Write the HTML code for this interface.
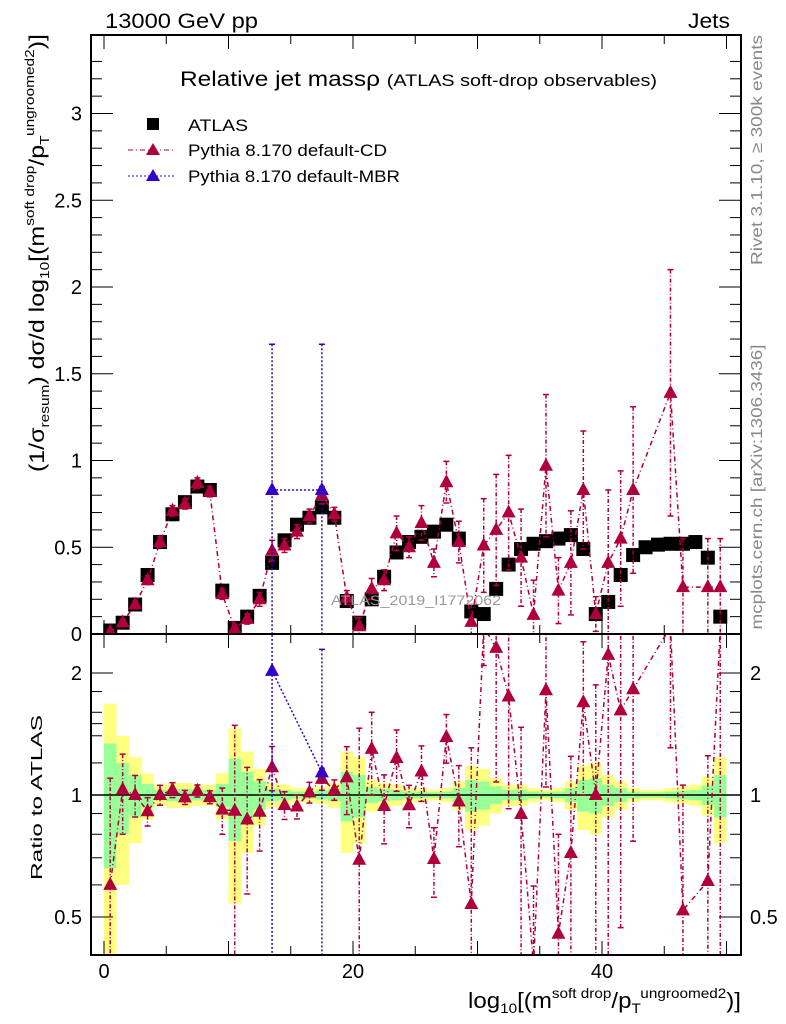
<!DOCTYPE html>
<html><head><meta charset="utf-8"><style>
html,body{margin:0;padding:0;background:#fff;font-family:"Liberation Sans",sans-serif;overflow:hidden;width:786px;height:1024px;}
svg{display:block;}
svg text{font-family:"Liberation Sans",sans-serif;}
</style></head><body>
<svg id="c" width="786" height="1024" xmlns="http://www.w3.org/2000/svg">
<defs>
<clipPath id="cm"><rect x="91" y="35" width="650" height="599"/></clipPath>
<clipPath id="cr"><rect x="91" y="634" width="650" height="321"/></clipPath>
</defs>
<g id="bands" clip-path="url(#cr)"></g>
<g id="grid"></g>
<g id="main" clip-path="url(#cm)"></g>
<g id="ratio" clip-path="url(#cr)"></g>
<rect x="91" y="35" width="650" height="599" fill="none" stroke="#000" stroke-width="2"/>
<rect x="91" y="634" width="650" height="321" fill="none" stroke="#000" stroke-width="2"/>
<text x="105" y="28" font-size="21" textLength="153" lengthAdjust="spacingAndGlyphs">13000 GeV pp</text>
<text x="730" y="28" font-size="21" text-anchor="end" textLength="42" lengthAdjust="spacingAndGlyphs">Jets</text>
<text x="180" y="86" textLength="477" lengthAdjust="spacingAndGlyphs"><tspan font-size="21">Relative jet massρ </tspan><tspan font-size="17">(ATLAS soft-drop observables)</tspan></text>
<g>
<rect x="147" y="118" width="12" height="12" fill="#000"/>
<text x="188" y="131" font-size="17" textLength="60" lengthAdjust="spacingAndGlyphs">ATLAS</text>
<line x1="128" y1="150" x2="176" y2="150" stroke="#b0003c" stroke-dasharray="5,3,1,3"/>
<polygon points="153,143 146,155 160,155" fill="#b0003c"/>
<text x="188" y="156" font-size="17" textLength="199" lengthAdjust="spacingAndGlyphs">Pythia 8.170 default-CD</text>
<line x1="128" y1="176" x2="176" y2="176" stroke="#3300cc" stroke-dasharray="2,2"/>
<polygon points="153,169 146,181 160,181" fill="#3300cc"/>
<text x="188" y="182" font-size="17" textLength="212" lengthAdjust="spacingAndGlyphs">Pythia 8.170 default-MBR</text>
</g>
<text x="416" y="605" font-size="14" fill="#999" text-anchor="middle" textLength="170" lengthAdjust="spacingAndGlyphs">ATLAS_2019_I1772062</text>
<text transform="translate(762,150) rotate(-90)" font-size="16" fill="#888" text-anchor="middle" textLength="230" lengthAdjust="spacingAndGlyphs">Rivet 3.1.10, ≥ 300k events</text>
<text transform="translate(762,487) rotate(-90)" font-size="16" fill="#888" text-anchor="middle" textLength="285" lengthAdjust="spacingAndGlyphs">mcplots.cern.ch [arXiv:1306.3436]</text>
<text transform="translate(44,472) rotate(-90)" font-size="21" textLength="438" lengthAdjust="spacingAndGlyphs">(1/σ<tspan font-size="13" dy="5">resum</tspan><tspan dy="-5">) dσ/d log</tspan><tspan font-size="13" dy="5">10</tspan><tspan dy="-5">[(m</tspan><tspan font-size="13" dy="-10">soft drop</tspan><tspan dy="10">/p</tspan><tspan font-size="13" dy="5">T</tspan><tspan font-size="13" dy="-15">ungroomed</tspan><tspan font-size="13">2</tspan><tspan dy="10">)]</tspan></text>
<text transform="translate(42,880) rotate(-90)" font-size="16" textLength="165" lengthAdjust="spacingAndGlyphs">Ratio to ATLAS</text>
<text x="468" y="1008" font-size="22" textLength="273" lengthAdjust="spacingAndGlyphs">log<tspan font-size="14" dy="5">10</tspan><tspan dy="-5">[(m</tspan><tspan font-size="14" dy="-10">soft drop</tspan><tspan dy="10">/p</tspan><tspan font-size="14" dy="5">T</tspan><tspan font-size="14" dy="-15">ungroomed</tspan><tspan font-size="14">2</tspan><tspan dy="10">)]</tspan></text>
</svg>
<script>
const atlas=[0.02,0.065,0.17,0.34,0.53,0.69,0.76,0.85,0.83,0.25,0.035,0.10,0.22,0.41,0.54,0.63,0.67,0.73,0.67,0.19,0.065,0.20,0.33,0.47,0.53,0.56,0.59,0.63,0.55,0.13,0.115,0.26,0.40,0.49,0.52,0.535,0.55,0.57,0.49,0.115,0.185,0.34,0.455,0.50,0.515,0.52,0.52,0.53,0.44,0.10];
const atlasRelErr=[0.34,0.2,0.12,0.065,0.03,0.035,0.035,0.03,0.03,0.065,0.23,0.14,0.08,0.035,0.03,0.02,0.02,0.025,0.035,0.14,0.12,0.045,0.035,0.03,0.02,0.02,0.015,0.02,0.04,0.09,0.08,0.05,0.03,0.03,0.02,0.015,0.02,0.04,0.09,0.1,0.06,0.04,0.02,0.015,0.015,0.02,0.025,0.03,0.055,0.12];
const cd=[0.012,0.067,0.17,0.31,0.53,0.71,0.75,0.87,0.82,0.23,0.032,0.087,0.20,0.48,0.51,0.59,0.68,0.80,0.69,0.21,0.045,0.26,0.31,0.58,0.50,0.64,0.41,0.875,0.53,0.07,0.51,0.60,0.70,0.44,0.11,0.97,0.25,0.41,0.83,0.115,0.41,0.55,0.83,null,null,1.39,0.27,null,0.27,0.27];
const cdErr=[0.01,0.015,0.02,0.025,0.03,0.03,0.03,0.03,0.03,0.03,0.02,0.03,0.04,0.06,0.04,0.04,0.04,0.05,0.04,0.04,0.05,0.06,0.06,0.1,0.06,0.1,0.08,0.12,0.12,0.1,0.27,0.32,0.33,0.28,0.2,0.41,0.19,0.3,0.34,0.1,0.42,0.39,0.48,0,0,0.71,0.28,0,0.28,0.28];
const mbrBins=[13,17];
const mbr=[0.83,0.83];
const mbrErr=[0.84,0.84];
const yMainTicks=[0,0.5,1,1.5,2,2.5,3];
const xTicks=[0,20,40];
const ratioTicks=[0.5,1,2];

const NS="http://www.w3.org/2000/svg";
const X=v=>104+12.45*v;
const YM=v=>634-173.5*Math.min(v,3.5);
const YR=r=>795-122*Math.log2(Math.min(Math.max(r,0.38),2.6));
function mk(tag,attrs,parent){const e=document.createElementNS(NS,tag);for(const k in attrs)e.setAttribute(k,attrs[k]);document.getElementById(parent).appendChild(e);return e;}
const CDC="#b0003c",MBRC="#3300cc";

atlas.forEach((a,i)=>{const e=atlasRelErr[i];
 let y=mk('rect',{x:X(i),width:12.45,y:YR(1+2*e),height:YR(1-2*e)-YR(1+2*e),fill:'#ffff80'},'bands');
 
 
 let g=mk('rect',{x:X(i),width:12.45,y:YR(1+e),height:YR(1-e)-YR(1+e),fill:'#99ff99'},'bands');
 
 
});
let l1=mk('line',{x1:91,x2:741,y1:YR(1),y2:YR(1),stroke:'#000','stroke-width':1.5},'bands');



for(let v=0;v<=3.4;v+=0.1){const maj=Math.abs(v*2-Math.round(v*2))<1e-6;const L=maj?22:11;
 mk('line',{x1:91,x2:91+L,y1:YM(v),y2:YM(v),stroke:'#000'},'grid');mk('line',{x1:741,x2:741-L,y1:YM(v),y2:YM(v),stroke:'#000'},'grid');}
yMainTicks.forEach(v=>{const t=mk('text',{x:82,y:YM(v)+7,'font-size':20,'text-anchor':'end'},'grid');t.textContent=String(v);
 
 });
for(let v=0;v<=50;v+=5){const L=v%10===0?14:9;
 [634,955].forEach(yb=>{mk('line',{x1:X(v),x2:X(v),y1:yb,y2:yb-L,stroke:'#000'},'grid');mk('line',{x1:X(v),x2:X(v),y1:yb===634?35:634,y2:(yb===634?35:634)+L,stroke:'#000'},'grid');});}
xTicks.forEach(v=>{const t=mk('text',{x:X(v),y:978,'font-size':20,'text-anchor':'middle'},'grid');t.textContent=String(v);
 
 });
[0.5,0.6,0.7,0.8,0.9,1,1.5,2,2.5].forEach(r=>{const maj=ratioTicks.includes(r);const L=maj?22:11;
 mk('line',{x1:91,x2:91+L,y1:YR(r),y2:YR(r),stroke:'#000'},'grid');mk('line',{x1:741,x2:741-L,y1:YR(r),y2:YR(r),stroke:'#000'},'grid');});
[1.2,1.4,1.6,1.8].forEach(r=>{mk('line',{x1:91,x2:102,y1:YR(r),y2:YR(r),stroke:'#000'},'grid');mk('line',{x1:741,x2:730,y1:YR(r),y2:YR(r),stroke:'#000'},'grid');});
ratioTicks.forEach(r=>{const t=mk('text',{x:82,y:YR(r)+7,'font-size':20,'text-anchor':'end'},'grid');t.textContent=String(r);
 
 
 const t2=mk('text',{x:750,y:YR(r)+7,'font-size':20},'grid');t2.textContent=String(r);
 
 });

function tri(cx,cy,col,parent,name){const p=mk('polygon',{points:`${cx},${cy-8} ${cx-7},${cy+5} ${cx+7},${cy+5}`,fill:col},parent);
 
 }
function errbar(cx,y1,y2,col,dash,parent){mk('line',{x1:cx,x2:cx,y1:y1,y2:y2,stroke:col,'stroke-width':1.5,'stroke-dasharray':dash},parent);
 mk('line',{x1:cx-3,x2:cx+3,y1:y1,y2:y1,stroke:col,'stroke-width':1.5},parent);mk('line',{x1:cx-3,x2:cx+3,y1:y2,y2:y2,stroke:col,'stroke-width':1.5},parent);}

atlas.forEach((a,i)=>{const r=mk('rect',{x:X(i+0.5)-7,y:YM(a)-7,width:14,height:14,fill:'#000'},'main');
 
 });
let pts=[],rpts=[];
cd.forEach((v,i)=>{if(v===null)return;const cx=X(i+0.5);pts.push(cx+','+YM(v));rpts.push(cx+','+YR(v/atlas[i]));});
let pl=mk('polyline',{points:pts.join(' '),fill:'none',stroke:CDC,'stroke-width':1.5,'stroke-dasharray':'5,3,1,3'},'main');


let rpl=mk('polyline',{points:rpts.join(' '),fill:'none',stroke:CDC,'stroke-width':1.5,'stroke-dasharray':'5,3,1,3'},'ratio');


cd.forEach((v,i)=>{if(v===null)return;const cx=X(i+0.5),e=cdErr[i];
 errbar(cx,YM(v+e),YM(Math.max(v-e,0)),CDC,'4,2,1,2','main');
 tri(cx,YM(v),CDC,'main','cd-point');
 const r=v/atlas[i],re=e/atlas[i];
 errbar(cx,YR(r+re),YR(r-re),CDC,'4,2,1,2','ratio');
 if(r<2.6&&r>0.38)tri(cx,YR(r),CDC,'ratio','cd-ratio-point');});
let mp=[],mr=[];
mbrBins.forEach((b,k)=>{const cx=X(b+0.5);mp.push(cx+','+YM(mbr[k]));mr.push(cx+','+YR(mbr[k]/atlas[b]));});
let ml=mk('polyline',{points:mp.join(' '),fill:'none',stroke:MBRC,'stroke-width':1.5,'stroke-dasharray':'2,2'},'main');


let mrl=mk('polyline',{points:mr.join(' '),fill:'none',stroke:MBRC,'stroke-width':1.5,'stroke-dasharray':'2,2'},'ratio');


mbrBins.forEach((b,k)=>{const cx=X(b+0.5),v=mbr[k],e=mbrErr[k];
 errbar(cx,YM(v+e),YM(Math.max(v-e,0)),MBRC,'2,2','main');
 tri(cx,YM(v),MBRC,'main','mbr-point');
 const r=v/atlas[b],re=e/atlas[b];
 errbar(cx,YR(r+re),YR(r-re),MBRC,'2,2','ratio');
 tri(cx,YR(r),MBRC,'ratio','mbr-ratio-point');});
</script>
</body></html>
